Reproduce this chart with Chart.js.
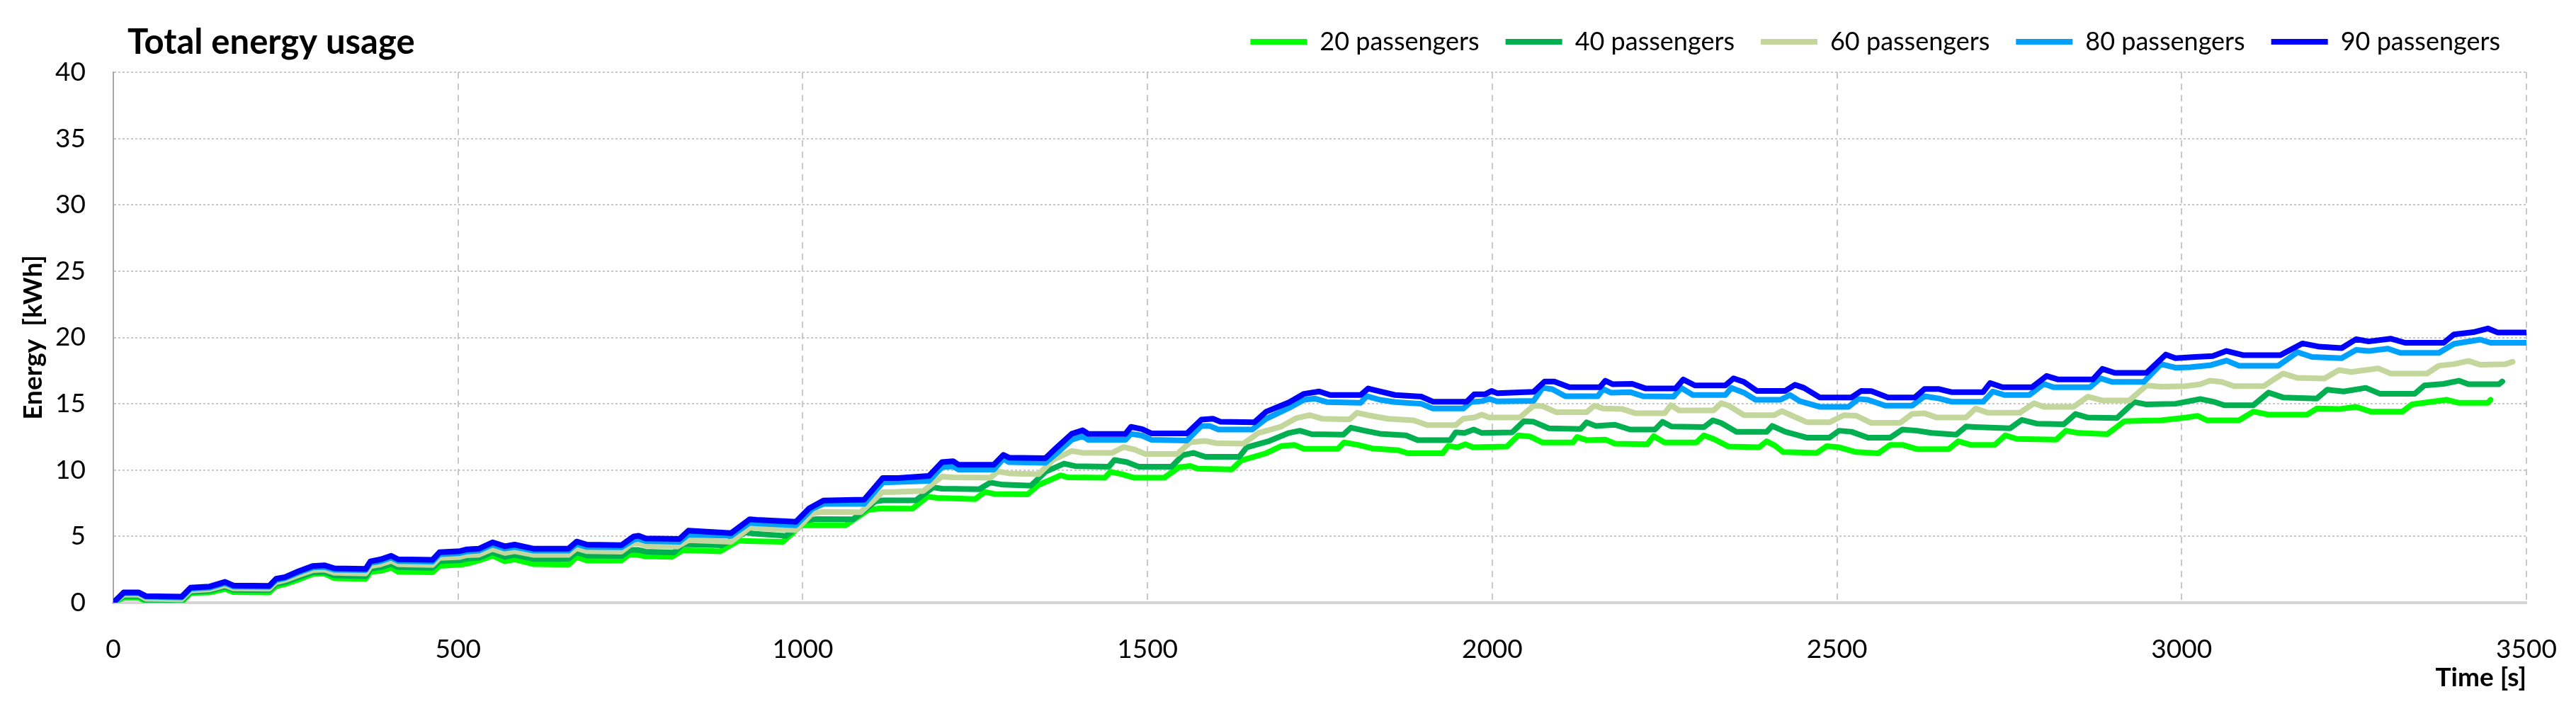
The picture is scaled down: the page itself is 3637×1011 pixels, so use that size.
<!DOCTYPE html>
<html>
<head>
<meta charset="utf-8">
<title>Total energy usage</title>
<script src="https://cdn.jsdelivr.net/npm/chart.js@4.4.1/dist/chart.umd.min.js"></script>
<style>
    html, body { margin: 0; padding: 0; background: #ffffff; }
</style>
</head>
<body>
<canvas id="energyChart" width="3637" height="1011"></canvas>
<script>
// [time s, energy kWh]
const pass20 = [[0,0],[15,0.38],[37,0.38],[47,0.09],[99,0.05],[112,0.73],[139,0.77],[162,1.04],[174,0.8],[226,0.77],[236,1.25],[249,1.4],[269,1.75],[289,2.16],[306,2.2],[321,1.84],[366,1.8],[373,2.34],[388,2.4],[403,2.64],[413,2.34],[463,2.29],[473,2.77],[503,2.87],[513,2.95],[530,3.18],[550,3.54],[568,3.12],[582,3.27],[610,2.91],[660,2.87],[672,3.45],[687,3.18],[737,3.18],[748,3.64],[760,3.62],[772,3.5],[810,3.46],[826,3.96],[880,3.87],[907,4.68],[920,4.65],[971,4.59],[998,5.84],[1010,5.84],[1062,5.84],[1095,7.0],[1111,7.1],[1159,7.09],[1181,7.99],[1195,7.9],[1250,7.81],[1264,8.35],[1278,8.2],[1326,8.17],[1342,8.88],[1374,9.6],[1385,9.45],[1438,9.42],[1446,9.87],[1462,9.7],[1481,9.42],[1524,9.42],[1546,10.22],[1562,10.31],[1573,10.11],[1622,10.05],[1636,10.73],[1672,11.27],[1694,11.81],[1713,11.9],[1727,11.6],[1776,11.6],[1785,12.08],[1805,11.9],[1826,11.63],[1864,11.49],[1878,11.27],[1928,11.27],[1936,11.81],[1950,11.72],[1961,11.95],[1972,11.72],[2021,11.77],[2038,12.62],[2055,12.53],[2073,12.08],[2117,12.08],[2123,12.49],[2137,12.26],[2164,12.3],[2178,11.99],[2225,11.95],[2234,12.56],[2250,12.08],[2296,12.08],[2307,12.62],[2321,12.35],[2343,11.77],[2387,11.72],[2398,12.17],[2410,11.85],[2422,11.36],[2471,11.3],[2485,11.8],[2503,11.72],[2528,11.36],[2560,11.27],[2577,11.9],[2595,11.9],[2616,11.58],[2662,11.58],[2676,12.17],[2694,11.9],[2729,11.9],[2744,12.62],[2761,12.35],[2818,12.3],[2832,12.97],[2850,12.8],[2892,12.71],[2917,13.69],[2945,13.72],[2970,13.75],[3005,13.95],[3023,14.09],[3037,13.75],[3083,13.75],[3104,14.41],[3126,14.18],[3182,14.18],[3196,14.64],[3228,14.6],[3253,14.77],[3274,14.41],[3320,14.41],[3334,14.95],[3359,15.13],[3384,15.3],[3402,15.07],[3444,15.07],[3448,15.3]];

const pass40 = [[0,0],[15,0.5],[37,0.5],[47,0.2],[99,0.15],[112,0.82],[139,0.9],[162,1.2],[174,0.98],[226,0.95],[236,1.42],[249,1.55],[269,1.92],[289,2.28],[306,2.32],[321,2.05],[366,2.0],[373,2.55],[388,2.68],[403,2.92],[413,2.68],[463,2.62],[473,3.12],[503,3.2],[513,3.32],[530,3.38],[550,3.8],[568,3.45],[582,3.6],[610,3.3],[660,3.3],[672,3.8],[687,3.55],[737,3.52],[750,3.98],[761,3.98],[772,3.85],[813,3.78],[826,4.41],[882,4.32],[917,5.3],[930,5.2],[976,5.04],[1003,6.2],[1020,6.3],[1073,6.29],[1105,7.63],[1116,7.72],[1164,7.72],[1189,8.7],[1202,8.6],[1256,8.56],[1272,9.06],[1290,8.9],[1331,8.83],[1352,9.87],[1379,10.49],[1395,10.3],[1444,10.26],[1452,10.76],[1470,10.6],[1487,10.26],[1535,10.26],[1551,11.12],[1567,11.3],[1578,11.1],[1584,11.0],[1633,11.0],[1644,11.72],[1677,12.2],[1705,12.8],[1721,12.97],[1738,12.71],[1784,12.67],[1795,13.2],[1815,12.97],[1837,12.74],[1875,12.62],[1892,12.26],[1939,12.26],[1947,12.85],[1960,12.8],[1973,13.06],[1985,12.8],[2029,12.85],[2046,13.69],[2060,13.64],[2082,13.15],[2128,13.1],[2137,13.6],[2150,13.33],[2178,13.42],[2200,13.06],[2236,13.06],[2247,13.64],[2260,13.28],[2307,13.24],[2320,13.75],[2332,13.55],[2354,12.89],[2398,12.89],[2406,13.33],[2425,12.89],[2457,12.44],[2489,12.44],[2503,12.97],[2521,12.89],[2545,12.44],[2577,12.44],[2595,13.06],[2616,12.97],[2637,12.8],[2673,12.67],[2687,13.28],[2701,13.24],[2751,13.15],[2768,13.78],[2790,13.5],[2829,13.46],[2846,14.23],[2864,13.96],[2906,13.92],[2931,15.13],[2949,14.95],[2991,15.0],[3027,15.36],[3048,15.13],[3062,14.89],[3104,14.89],[3126,15.84],[3147,15.48],[3196,15.4],[3211,16.06],[3235,15.93],[3267,16.2],[3288,15.75],[3338,15.75],[3352,16.38],[3380,16.5],[3402,16.74],[3416,16.47],[3460,16.47],[3465,16.68]];

const pass60 = [[0,0],[15,0.6],[37,0.6],[47,0.3],[99,0.25],[112,0.92],[139,1.0],[162,1.32],[174,1.08],[226,1.05],[236,1.55],[249,1.7],[269,2.08],[289,2.45],[306,2.5],[321,2.25],[366,2.2],[373,2.75],[388,2.9],[403,3.15],[413,2.9],[463,2.85],[473,3.38],[503,3.45],[513,3.58],[530,3.62],[550,4.05],[568,3.75],[582,3.88],[610,3.6],[660,3.6],[672,4.1],[687,3.88],[737,3.85],[752,4.45],[761,4.5],[772,4.3],[818,4.23],[834,4.71],[896,4.59],[923,5.66],[933,5.62],[990,5.48],[1014,6.74],[1030,6.85],[1084,6.82],[1116,8.35],[1131,8.35],[1175,8.43],[1202,9.51],[1218,9.45],[1272,9.42],[1283,9.9],[1299,9.75],[1342,9.69],[1363,10.76],[1390,11.44],[1406,11.3],[1449,11.3],[1465,11.74],[1481,11.55],[1497,11.21],[1543,11.21],[1562,12.1],[1584,12.2],[1600,12.03],[1639,11.99],[1661,12.8],[1694,13.28],[1716,13.92],[1735,14.14],[1754,13.87],[1793,13.82],[1804,14.32],[1820,14.14],[1848,13.87],[1886,13.75],[1906,13.39],[1947,13.39],[1958,13.87],[1974,13.96],[1985,14.18],[1996,13.96],[2040,13.96],[2060,14.86],[2073,14.82],[2093,14.36],[2137,14.36],[2148,14.86],[2161,14.64],[2189,14.6],[2208,14.28],[2250,14.28],[2259,14.89],[2271,14.5],[2321,14.5],[2332,15.04],[2343,14.86],[2365,14.14],[2409,14.14],[2420,14.45],[2435,14.1],[2457,13.6],[2489,13.6],[2510,14.14],[2528,14.1],[2549,13.57],[2592,13.57],[2609,14.23],[2627,14.28],[2645,13.96],[2687,13.96],[2701,14.64],[2719,14.32],[2765,14.32],[2786,15.04],[2800,14.77],[2843,14.77],[2864,15.54],[2885,15.25],[2924,15.25],[2949,16.38],[2970,16.29],[3005,16.33],[3027,16.47],[3041,16.74],[3058,16.65],[3076,16.33],[3119,16.33],[3147,17.28],[3168,16.95],[3207,16.9],[3228,17.54],[3246,17.4],[3285,17.67],[3303,17.28],[3356,17.28],[3373,17.87],[3395,17.99],[3416,18.23],[3433,17.94],[3470,17.99],[3480,18.17]];

const pass80 = [[0,0],[15,0.72],[37,0.72],[47,0.45],[99,0.4],[112,1.05],[139,1.13],[162,1.48],[174,1.22],[226,1.2],[236,1.7],[249,1.85],[269,2.28],[289,2.65],[306,2.7],[321,2.48],[366,2.45],[373,3.0],[388,3.14],[403,3.4],[413,3.14],[463,3.1],[473,3.65],[503,3.74],[513,3.86],[530,3.92],[550,4.38],[568,4.08],[582,4.2],[610,3.92],[660,3.92],[672,4.43],[687,4.2],[737,4.18],[755,4.75],[761,4.82],[772,4.65],[821,4.59],[834,5.13],[896,5.04],[923,6.02],[933,5.98],[990,5.84],[1014,7.09],[1030,7.45],[1089,7.45],[1116,9.06],[1138,9.1],[1183,9.19],[1202,10.22],[1218,10.28],[1226,10.04],[1277,10.04],[1291,10.85],[1299,10.6],[1352,10.55],[1369,11.3],[1390,12.28],[1406,12.55],[1414,12.28],[1468,12.28],[1476,12.73],[1492,12.6],[1506,12.28],[1557,12.23],[1578,13.33],[1590,13.33],[1603,13.06],[1652,13.06],[1672,13.87],[1705,14.68],[1727,15.3],[1743,15.39],[1760,15.13],[1809,15.07],[1818,15.57],[1837,15.3],[1859,15.13],[1897,15.0],[1914,14.64],[1958,14.64],[1969,15.13],[1985,15.2],[1996,15.36],[2007,15.18],[2060,15.22],[2073,16.2],[2087,16.1],[2106,15.57],[2153,15.57],[2161,16.11],[2172,15.84],[2200,15.88],[2219,15.57],[2263,15.54],[2274,16.2],[2291,15.66],[2338,15.66],[2347,16.2],[2365,15.84],[2382,15.3],[2418,15.3],[2432,15.66],[2446,15.2],[2475,14.77],[2517,14.77],[2531,15.36],[2545,15.3],[2570,14.86],[2609,14.86],[2627,15.57],[2648,15.4],[2666,15.16],[2712,15.16],[2726,15.93],[2743,15.66],[2779,15.66],[2800,16.5],[2814,16.25],[2867,16.25],[2882,16.92],[2899,16.65],[2945,16.65],[2970,17.99],[2991,17.72],[3012,17.76],[3041,17.9],[3065,18.26],[3083,17.87],[3140,17.87],[3168,18.89],[3189,18.53],[3232,18.44],[3253,19.07],[3271,18.98],[3299,19.16],[3317,18.84],[3373,18.84],[3395,19.52],[3433,19.84],[3448,19.6],[3500,19.6]];

const pass90 = [[0,0],[15,0.77],[37,0.77],[47,0.5],[99,0.45],[112,1.13],[139,1.21],[162,1.57],[174,1.3],[226,1.27],[236,1.8],[249,1.93],[269,2.38],[289,2.77],[306,2.82],[321,2.59],[366,2.55],[373,3.12],[388,3.27],[403,3.54],[413,3.27],[463,3.23],[473,3.8],[503,3.89],[513,4.02],[530,4.07],[550,4.55],[568,4.25],[582,4.38],[610,4.07],[660,4.07],[672,4.61],[687,4.38],[737,4.34],[755,5.0],[762,5.05],[772,4.85],[821,4.8],[834,5.43],[896,5.25],[923,6.29],[933,6.25],[990,6.1],[1009,7.1],[1030,7.7],[1089,7.77],[1116,9.4],[1138,9.4],[1183,9.56],[1202,10.6],[1218,10.67],[1226,10.4],[1277,10.4],[1291,11.15],[1299,10.94],[1352,10.9],[1369,11.74],[1390,12.73],[1406,13.0],[1414,12.73],[1468,12.73],[1476,13.26],[1492,13.09],[1506,12.76],[1557,12.76],[1578,13.8],[1595,13.87],[1606,13.64],[1655,13.6],[1672,14.4],[1705,15.1],[1727,15.75],[1749,15.93],[1765,15.66],[1809,15.66],[1820,16.15],[1837,15.93],[1859,15.66],[1897,15.54],[1914,15.16],[1963,15.16],[1974,15.72],[1990,15.72],[1999,15.97],[2007,15.8],[2060,15.9],[2076,16.68],[2090,16.68],[2112,16.25],[2156,16.25],[2164,16.74],[2175,16.47],[2203,16.5],[2222,16.16],[2266,16.16],[2277,16.83],[2294,16.38],[2338,16.38],[2350,16.92],[2365,16.65],[2384,15.97],[2425,15.97],[2439,16.43],[2452,16.2],[2475,15.48],[2521,15.48],[2535,15.97],[2550,15.95],[2574,15.48],[2613,15.48],[2627,16.11],[2648,16.11],[2666,15.88],[2712,15.88],[2722,16.56],[2740,16.25],[2783,16.25],[2804,17.1],[2821,16.83],[2871,16.83],[2885,17.63],[2903,17.33],[2949,17.33],[2977,18.71],[2991,18.44],[3020,18.53],[3045,18.6],[3065,18.98],[3090,18.66],[3143,18.66],[3175,19.55],[3200,19.3],[3232,19.2],[3253,19.87],[3271,19.7],[3303,19.91],[3324,19.6],[3380,19.6],[3395,20.23],[3423,20.4],[3444,20.68],[3458,20.38],[3500,20.38]];

const seriesNames = ["20 passengers", "40 passengers", "60 passengers", "80 passengers", "90 passengers"];
const seriesColors = ["#00ff00", "#00b050", "#c3d69b", "#00a0ff", "#0000ff"];
const xTicks = [0, 500, 1000, 1500, 2000, 2500, 3000, 3500];
const yTicks = [0, 5, 10, 15, 20, 25, 30, 35, 40];

const allSeries = [pass20, pass40, pass60, pass80, pass90];

function toPoints(pairs) {
    return pairs.map(function (p) { return { x: p[0], y: p[1] }; });
}

// 90 passengers first so it is painted on top, legend reversed back to 20..90
let datasets = [];
for (let i = allSeries.length - 1; i >= 0; i--) {
    datasets.push({
        label: seriesNames[i],
        data: toPoints(allSeries[i]),
        borderColor: seriesColors[i],
        backgroundColor: seriesColors[i],
        borderWidth: 8,
        pointRadius: 0,
        tension: 0,
        borderJoinStyle: "round",
        borderCapStyle: "round",
        fill: false
    });
}

const chartTitle = {
    id: "chartTitle",
    afterDraw(chart) {
        const ctx = chart.ctx;
        ctx.save();
        ctx.font = "bold 49px Lato";
        ctx.fillStyle = "#000000";
        ctx.textAlign = "left";
        ctx.textBaseline = "middle";
        ctx.fillText("Total energy usage", 180, 60);
        ctx.restore();
    }
};

// extra room between legend row and the plot
const legendGap = {
    id: "legendGap",
    afterInit(chart) {
        const fit = chart.legend.fit;
        chart.legend.fit = function () {
            fit.call(this);
            this.height += 15;
        };
    }
};

Chart.defaults.font.family = "Lato";
Chart.defaults.color = "#000000";

let ctx = document.getElementById("energyChart").getContext("2d");
new Chart(ctx, {
    type: "line",
    data: { datasets: datasets },
    options: {
        responsive: false,
        animation: false,
        layout: { padding: { top: 4, right: 70, bottom: 0, left: 0 } },
        plugins: {
            tooltip: { enabled: false },
            title: { display: false },
            legend: {
                position: "top",
                align: "end",
                reverse: true,
                labels: {
                    font: { size: 36 },
                    color: "#000000",
                    boxWidth: 80,
                    boxHeight: 8,
                    padding: 37,
                    generateLabels: function (chart) {
                        return Chart.defaults.plugins.legend.labels.generateLabels(chart).map(function (l) {
                            l.fillStyle = l.strokeStyle;
                            l.lineWidth = 0;
                            return l;
                        });
                    }
                }
            }
        },
        scales: {
            x: {
                type: "linear",
                min: xTicks[0],
                max: xTicks[xTicks.length - 1],
                afterBuildTicks: function (scale) {
                    scale.ticks = xTicks.map(function (v) { return { value: v }; });
                },
                afterFit: function (scale) {
                    // fixed axis band; the layout padding handles label overhang
                    scale.height = 160;
                    scale.paddingLeft = 0;
                    scale.paddingRight = 0;
                },
                ticks: {
                    font: { size: 37 },
                    color: "#000000",
                    padding: 44,
                    callback: function (v) { return String(v); }
                },
                grid: { color: "#c8c8c8", lineWidth: 2, drawTicks: false },
                border: { color: "#d4d4d4", width: 4, dash: [9, 7] },
                title: {
                    display: true,
                    text: "Time [s]",
                    align: "end",
                    font: { size: 37, weight: "bold" },
                    color: "#000000",
                    padding: { top: 0, bottom: 32 }
                }
            },
            y: {
                min: yTicks[0],
                max: yTicks[yTicks.length - 1],
                afterBuildTicks: function (scale) {
                    scale.ticks = yTicks.map(function (v) { return { value: v }; });
                },
                afterFit: function (scale) { scale.width = 160; },
                ticks: {
                    font: { size: 37 },
                    color: "#000000",
                    padding: 39,
                    callback: function (v) { return String(v); }
                },
                grid: { color: "#c8c8c8", lineWidth: 2, drawTicks: false },
                border: { color: "#a6a6a6", width: 2, dash: [3, 3] },
                title: {
                    display: true,
                    text: "Energy  [kWh]",
                    font: { size: 37, weight: "bold" },
                    color: "#000000",
                    padding: { top: 25, bottom: 0 }
                }
            }
        }
    },
    plugins: [chartTitle, legendGap]
});
</script>
</body>
</html>
